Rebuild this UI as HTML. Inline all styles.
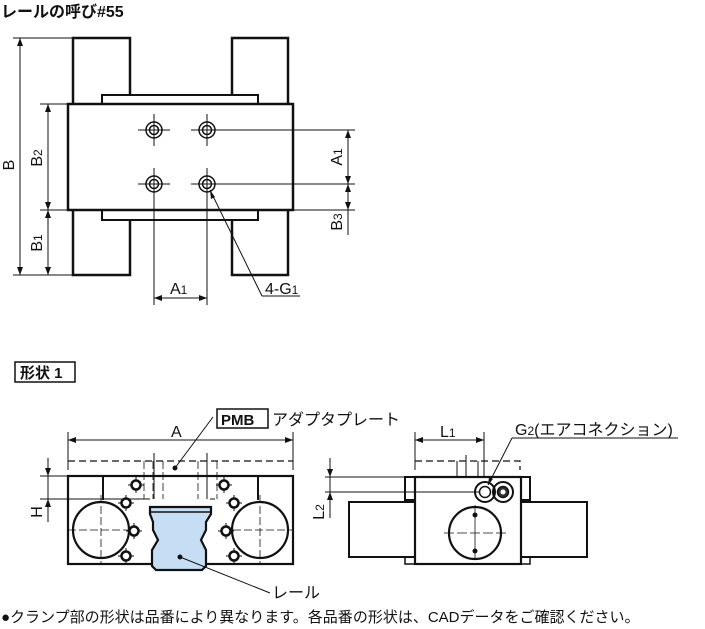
<!DOCTYPE html>
<html><head><meta charset="utf-8"><style>
html,body{margin:0;padding:0;background:#fff;}
svg{display:block;font-family:"Liberation Sans","Noto Sans CJK JP",sans-serif;}
</style></head><body>
<svg width="705" height="629" viewBox="0 0 705 629" xmlns="http://www.w3.org/2000/svg">
<g fill="#111">
<text x="1" y="17" font-size="16" font-weight="bold">レールの呼び#55</text>
</g>
<!-- TOP VIEW -->
<g stroke="#111" fill="none">
<rect x="73" y="38" width="57" height="237" stroke-width="2.5"/>
<rect x="232" y="38" width="56" height="237" stroke-width="2.5"/>
<rect x="102" y="95" width="156" height="125" stroke-width="2" fill="#fff"/>
<rect x="68" y="104" width="225" height="106" stroke-width="2.5" fill="#fff"/>
<g stroke-width="1">
<line x1="13" y1="38" x2="73" y2="38"/>
<line x1="13" y1="275" x2="73" y2="275"/>
<line x1="40" y1="104" x2="68" y2="104"/>
<line x1="40" y1="210" x2="355" y2="210"/>
<line x1="20" y1="38" x2="20" y2="275"/>
<line x1="48" y1="104" x2="48" y2="275"/>
<line x1="207" y1="130" x2="355" y2="130"/>
<line x1="207" y1="184" x2="355" y2="184"/>
<line x1="348" y1="130" x2="348" y2="235"/>
<line x1="138" y1="130" x2="170" y2="130"/><line x1="154" y1="114" x2="154" y2="146"/>
<line x1="191" y1="130" x2="223" y2="130"/><line x1="207" y1="114" x2="207" y2="146"/>
<line x1="138" y1="184" x2="170" y2="184"/><line x1="154" y1="168" x2="154" y2="305"/>
<line x1="191" y1="184" x2="223" y2="184"/><line x1="207" y1="168" x2="207" y2="305"/>
<line x1="154" y1="298" x2="207" y2="298"/>
<line x1="210" y1="190" x2="262" y2="296"/>
<line x1="262" y1="296" x2="300" y2="296"/>
</g>
<g stroke-width="1.5">
<circle cx="154" cy="130" r="8"/><circle cx="154" cy="130" r="4.5"/>
<circle cx="207" cy="130" r="8"/><circle cx="207" cy="130" r="4.5"/>
<circle cx="154" cy="184" r="8"/><circle cx="154" cy="184" r="4.5"/>
<circle cx="207" cy="184" r="8"/><circle cx="207" cy="184" r="4.5"/>
</g>
</g>
<g fill="#111">
<path d="M20 38l-3 8h6zM20 275l-3-8h6zM48 104l-3 8h6zM48 210l-3-8h6zM48 210l-3 8h6zM48 275l-3-8h6zM348 130l-3 8h6zM348 184l-3-8h6zM348 184l-3 8h6zM348 210l-3-8h6zM154 298l8-3v6zM207 298l-8-3v6zM210 190l1 9 4-2z"/>
<text transform="translate(14 165) rotate(-90)" font-size="16" text-anchor="middle">B</text>
<text transform="translate(42 158) rotate(-90)" font-size="16" text-anchor="middle">B<tspan font-size="12">2</tspan></text>
<text transform="translate(42 243) rotate(-90)" font-size="16" text-anchor="middle">B<tspan font-size="12">1</tspan></text>
<text transform="translate(342 157) rotate(-90)" font-size="16" text-anchor="middle">A<tspan font-size="12">1</tspan></text>
<text transform="translate(342 222) rotate(-90)" font-size="16" text-anchor="middle">B<tspan font-size="12">3</tspan></text>
<text x="170" y="294" font-size="16">A<tspan font-size="12">1</tspan></text>
<text x="265" y="294" font-size="16">4-G<tspan font-size="12">1</tspan></text>
</g>
<!-- Shape label -->
<rect x="15" y="362" width="60" height="20" fill="none" stroke="#111" stroke-width="1.5"/>
<text x="20" y="378" font-size="15" font-weight="bold" fill="#111">形状 1</text>
<!-- FRONT VIEW -->
<rect x="217" y="409" width="51" height="19" fill="none" stroke="#111" stroke-width="1.5"/>
<text x="221" y="425" font-size="15" font-weight="bold" fill="#111">PMB</text>
<text x="272" y="425" font-size="16" fill="#111">アダプタプレート</text>
<text x="171" y="437" font-size="16" fill="#111">A</text>
<g stroke="#111" fill="none">
<line x1="68" y1="432" x2="68" y2="470" stroke-width="1"/>
<line x1="293" y1="432" x2="293" y2="470" stroke-width="1"/>
<line x1="68" y1="440" x2="293" y2="440" stroke-width="1"/>
<line x1="68" y1="461" x2="293" y2="461" stroke-width="1.3" stroke-dasharray="7,4"/>
<line x1="213" y1="417" x2="175" y2="468" stroke-width="1"/>
<rect x="68" y="476" width="225" height="88" stroke-width="2.2"/>
<line x1="103" y1="476" x2="103" y2="500" stroke-width="2"/>
<line x1="258" y1="476" x2="258" y2="500" stroke-width="2"/>
<line x1="40" y1="476" x2="68" y2="476" stroke-width="1"/>
<line x1="40" y1="499" x2="150" y2="499" stroke-width="1"/>
<line x1="210" y1="499" x2="215" y2="499" stroke-width="1"/>
<line x1="48" y1="458" x2="48" y2="522" stroke-width="1"/>
<circle cx="101" cy="530" r="28" stroke-width="2.2" fill="#fff"/>
<circle cx="260" cy="530" r="28" stroke-width="2.2" fill="#fff"/>
<g stroke-width="0.8" stroke-dasharray="8,3">
<line x1="68" y1="530" x2="140" y2="530"/><line x1="101" y1="495" x2="101" y2="564"/>
<line x1="222" y1="530" x2="293" y2="530"/><line x1="260" y1="495" x2="260" y2="564"/>
<line x1="144" y1="461" x2="144" y2="499"/><line x1="153" y1="461" x2="153" y2="499"/><line x1="163" y1="461" x2="163" y2="499"/>
<line x1="198" y1="461" x2="198" y2="499"/><line x1="207" y1="461" x2="207" y2="499"/><line x1="217" y1="461" x2="217" y2="499"/>
</g>
<g stroke-width="1">
<line x1="154" y1="453" x2="154" y2="499"/><line x1="207" y1="453" x2="207" y2="499"/>
</g>
<path d="M150 507 H211 V514 L206 522 V530 L201 540 L206 550 V566 L202 570 H156 L152 566 V550 L158 540 L153 530 V522 L150 514 Z" fill="#c6def3" stroke-width="2.2"/>
<line x1="150" y1="512" x2="211" y2="512" stroke-width="1.5"/>
<line x1="180" y1="557" x2="270" y2="593" stroke-width="1"/>
<g stroke-width="1">
<line x1="128" y1="485" x2="144" y2="485"/><line x1="136" y1="477" x2="136" y2="493"/>
<line x1="216" y1="485" x2="232" y2="485"/><line x1="224" y1="477" x2="224" y2="493"/>
<line x1="118" y1="503" x2="134" y2="503"/><line x1="126" y1="495" x2="126" y2="511"/>
<line x1="226" y1="503" x2="242" y2="503"/><line x1="234" y1="495" x2="234" y2="511"/>
<line x1="126" y1="531" x2="142" y2="531"/><line x1="134" y1="523" x2="134" y2="539"/>
<line x1="218" y1="531" x2="234" y2="531"/><line x1="226" y1="523" x2="226" y2="539"/>
<line x1="118" y1="556" x2="134" y2="556"/><line x1="126" y1="548" x2="126" y2="564"/>
<line x1="226" y1="556" x2="242" y2="556"/><line x1="234" y1="548" x2="234" y2="564"/>
</g>
<g stroke-width="2.5" fill="#fff">
<circle cx="136" cy="485" r="4.5"/><circle cx="224" cy="485" r="4.5"/>
<circle cx="126" cy="503" r="4.5"/><circle cx="234" cy="503" r="4.5"/>
<circle cx="134" cy="531" r="4.5"/><circle cx="226" cy="531" r="4.5"/>
<circle cx="126" cy="556" r="4.5"/><circle cx="234" cy="556" r="4.5"/>
</g>
</g>
<g fill="#111">
<circle cx="175" cy="468" r="2.5"/><circle cx="180" cy="557" r="2.5"/>
<path d="M48 476l-3-8h6zM48 499l-3 8h6zM68 440l8-3v6zM293 440l-8-3v6z"/>
<text transform="translate(42 512) rotate(-90)" font-size="16" text-anchor="middle">H</text>
<text x="272" y="598" font-size="16">レール</text>
</g>
<!-- SIDE VIEW -->
<g stroke="#111" fill="none">
<line x1="415" y1="432" x2="415" y2="470" stroke-width="1"/>
<line x1="484" y1="432" x2="484" y2="480" stroke-width="1"/>
<line x1="415" y1="440" x2="484" y2="440" stroke-width="1"/>
<path d="M415 461 H520 V470" stroke-width="1.3" stroke-dasharray="7,4"/>
<line x1="457" y1="461" x2="457" y2="477" stroke-width="1"/>
<line x1="466" y1="455" x2="466" y2="477" stroke-width="1"/>
<line x1="478" y1="461" x2="478" y2="477" stroke-width="1"/>
<rect x="349" y="502" width="66" height="55" stroke-width="2"/>
<rect x="521" y="502" width="66" height="55" stroke-width="2"/>
<rect x="405" y="477" width="125" height="23" stroke-width="2"/>
<rect x="405" y="557" width="125" height="7" stroke-width="1.5"/>
<rect x="415" y="477" width="106" height="87" stroke-width="2.2" fill="#fff"/>
<line x1="325" y1="477" x2="415" y2="477" stroke-width="1"/>
<line x1="325" y1="492" x2="480" y2="492" stroke-width="1"/>
<line x1="330" y1="458" x2="330" y2="518" stroke-width="1"/>
<circle cx="475" cy="533" r="26" stroke-width="2.2"/>
<line x1="444" y1="533" x2="506" y2="533" stroke-width="0.8" stroke-dasharray="10,3"/>
<line x1="475" y1="505" x2="475" y2="560" stroke-width="0.8"/>
<circle cx="485" cy="492" r="10" stroke-width="2"/><circle cx="485" cy="492" r="5.5" stroke-width="1.5"/>
<circle cx="503" cy="492" r="10" stroke-width="2"/><circle cx="503" cy="492" r="5.5" stroke-width="1.5" fill="#333"/><circle cx="503" cy="492" r="2.5" fill="#fff" stroke="none"/>
<line x1="488" y1="485" x2="512" y2="438" stroke-width="1"/>
<line x1="512" y1="438" x2="678" y2="438" stroke-width="1"/>
</g>
<g fill="#111">
<circle cx="475" cy="515" r="2.5"/><circle cx="475" cy="551" r="2.5"/>
<path d="M415 440l8-3v6zM484 440l-8-3v6zM330 477l-3-8h6zM330 492l-3 8h6zM488 485l1-8 4 2z"/>
<text x="440" y="437" font-size="16">L<tspan font-size="12">1</tspan></text>
<text x="515" y="435" font-size="16">G<tspan font-size="12">2</tspan>(エアコネクション)</text>
<text transform="translate(324 512) rotate(-90)" font-size="16" text-anchor="middle">L<tspan font-size="12">2</tspan></text>
<text x="1" y="622" font-size="15">●クランプ部の形状は品番により異なります。各品番の形状は、CADデータをご確認ください。</text>
</g>
</svg>
</body></html>
